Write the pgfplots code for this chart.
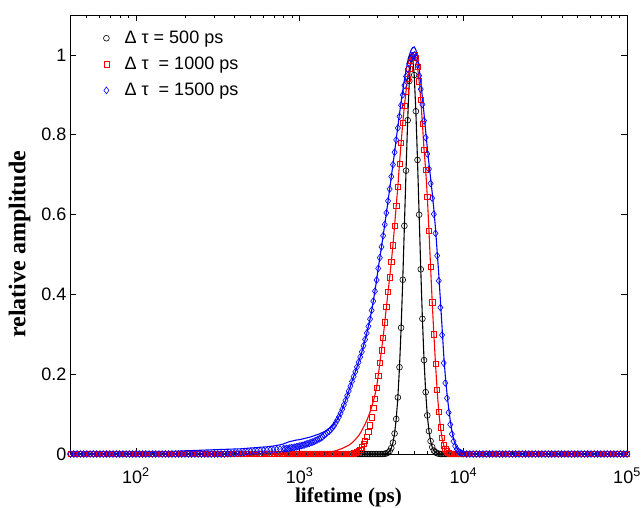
\documentclass[border=0pt]{standalone}
\usepackage{fontspec}
\setmainfont{Liberation Sans}
\newfontfamily\labelfont{Liberation Serif}
\usepackage{pgfplots}
\pgfplotsset{compat=1.18}
\usepackage{pgfplotstable}

% u = log10(lifetime / ps); bk, rd, bl = measured points; rdL, blL = fitted curves
\pgfplotstableread{
u bk rd rdL bl blL
1.60 0 0 0 0 0.0005
1.62 0 0 0 0 0.0006
1.64 0 0 0 0 0.0006
1.66 0 0 0 0 0.0007
1.68 0 0 0 0 0.0007
1.70 0 0 0 0 0.0008
1.72 0 0 0 0 0.0009
1.74 0 0 0 0 0.0010
1.76 0 0 0 0 0.0010
1.78 0 0 0 0 0.0011
1.80 0 0 0 0 0.0012
1.82 0 0 0 0 0.0013
1.84 0 0 0 0 0.0014
1.86 0 0 0 0 0.0014
1.88 0 0 0 0 0.0015
1.90 0 0 0 0 0.0016
1.92 0 0 0 0 0.0017
1.94 0 0 0 0 0.0018
1.96 0 0 0 0 0.0018
1.98 0 0 0 0 0.0019
2.00 0 0 0 0 0.0020
2.02 0 0 0 0 0.0024
2.04 0 0 0 0 0.0028
2.06 0 0 0 0 0.0032
2.08 0 0 0 0 0.0036
2.10 0 0 0 0 0.0040
2.12 0 0 0 0 0.0044
2.14 0 0 0 0 0.0048
2.16 0 0 0 0 0.0052
2.18 0 0 0 0 0.0056
2.20 0 0 0 0 0.0060
2.22 0 0 0 0 0.0064
2.24 0 0 0 0 0.0068
2.26 0 0 0 0 0.0072
2.28 0 0 0 0 0.0076
2.30 0 0 0 0 0.0080
2.32 0 0 0 0 0.0083
2.34 0 0 0 0 0.0086
2.36 0 0 0 0 0.0089
2.38 0 0 0 0 0.0092
2.40 0 0 0 0 0.0095
2.42 0 0 0 0 0.0098
2.44 0 0 0 0 0.0101
2.46 0 0 0 0 0.0104
2.48 0 0 0 0 0.0107
2.50 0 0 0 0 0.0110
2.52 0 0 0 0 0.0113
2.54 0 0 0 0 0.0116
2.56 0 0 0 0.0010 0.0119
2.58 0 0 0 0.0015 0.0122
2.60 0 0 0 0.0020 0.0125
2.62 0 0 0 0.0025 0.0128
2.64 0 0 0 0.0030 0.0130
2.66 0 0 0 0.0040 0.0137
2.68 0 0 0 0.0050 0.0143
2.70 0 0 0 0.0060 0.0150
2.72 0 0 0 0.0065 0.0155
2.74 0 0 0 0.0070 0.0160
2.76 0 0 0 0.0080 0.0170
2.78 0 0 0 0.0085 0.0175
2.80 0 0 0 0.0090 0.0180
2.82 0 0 0 0.0095 0.0190
2.84 0 0 0 0.0100 0.0200
2.86 0 0 0 0.0110 0.0215
2.88 0 0 0 0.0120 0.0230
2.90 0 0 0 0.013 0.025
2.91 0 0 0 0.013 0.027
2.92 0 0 0 0.014 0.028
2.93 0 0 0 0.014 0.030
2.94 0 0 0 0.015 0.031
2.95 0 0 0 0.016 0.032
2.96 0 0 0 0.016 0.033
2.97 0 0 0 0.017 0.034
2.98 0 0 0 0.018 0.035
2.99 0 0 0 0.019 0.0355
3.00 0 0 0 0.020 0.036
3.01 0 0 0 0.021 0.037
3.02 0 0 0 0.022 0.038
3.03 0 0 0 0.023 0.039
3.04 0 0 0 0.025 0.040
3.05 0 0 0 0.026 0.041
3.06 0 0 0 0.027 0.042
3.07 0 0 0 0.029 0.043
3.08 0 0 0 0.030 0.0445
3.09 0 0 0.0008 0.032 0.046
3.10 0 0 0.0010 0.034 0.0475
3.11 0 0 0.0012 0.036 0.049
3.12 0 0 0.0014 0.038 0.050
3.13 0 0 0.0017 0.040 0.052
3.14 0 0 0.0020 0.043 0.054
3.15 0 0 0.0024 0.047 0.056
3.16 0 0 0.0030 0.050 0.058
3.17 0 0 0.0036 0.054 0.061
3.18 0 0 0.0043 0.057 0.064
3.19 0 0 0.0050 0.061 0.067
3.20 0 0 0.0060 0.066 0.071
3.21 0 0 0.0070 0.071 0.076
3.22 0 0 0.0080 0.078 0.081
3.23 0 0 0.0095 0.085 0.087
3.24 0 0 0.0110 0.093 0.094
3.25 0 0 0.0125 0.102 0.102
3.26 0 0 0.0140 0.112 0.112
3.27 0 0 0.0160 0.123 0.123
3.28 0 0 0.0180 0.134 0.134
3.29 0 0 0.0200 0.146 0.146
3.30 0 0.0003 0.0220 0.158 0.158
3.31 0 0.0005 0.025 0.170 0.170
3.32 0 0.001 0.028 0.182 0.182
3.33 0 0.002 0.032 0.194 0.194
3.34 0 0.003 0.036 0.206 0.206
3.35 0 0.005 0.041 0.218 0.218
3.36 0 0.007 0.046 0.230 0.230
3.37 0 0.011 0.052 0.243 0.243
3.38 0 0.017 0.059 0.256 0.256
3.39 0 0.025 0.067 0.271 0.271
3.40 0 0.033 0.075 0.287 0.287
3.41 0 0.044 0.084 0.303 0.303
3.42 0 0.056 0.094 0.320 0.320
3.43 0 0.072 0.105 0.338 0.338
3.44 0 0.092 0.118 0.360 0.360
3.45 0 0.115 0.132 0.383 0.383
3.46 0 0.139 0.148 0.408 0.408
3.47 0 0.165 0.167 0.436 0.436
3.48 0 0.196 0.196 0.465 0.465
3.49 0 0.228 0.228 0.492 0.492
3.50 0 0.260 0.260 0.519 0.519
3.51 0 0.292 0.292 0.547 0.547
3.52 0.0007 0.330 0.330 0.575 0.575
3.53 0.0016 0.368 0.368 0.604 0.604
3.54 0.0036 0.406 0.406 0.634 0.634
3.55 0.0075 0.443 0.443 0.664 0.664
3.56 0.0151 0.481 0.481 0.695 0.695
3.57 0.0286 0.523 0.523 0.725 0.725
3.58 0.0514 0.572 0.572 0.756 0.756
3.59 0.0876 0.622 0.622 0.787 0.789
3.60 0.1417 0.670 0.670 0.817 0.821
3.61 0.2174 0.728 0.728 0.846 0.852
3.62 0.3163 0.780 0.780 0.874 0.882
3.63 0.4367 0.830 0.830 0.900 0.911
3.64 0.5717 0.872 0.872 0.924 0.937
3.65 0.7100 0.909 0.909 0.946 0.962
3.66 0.8364 0.941 0.941 0.964 0.984
3.67 0.9346 0.966 0.966 0.979 0.999
3.68 0.9905 0.985 0.985 0.991 1.011
3.69 0.9958 0.996 0.996 0.998 1.018
3.70 0.9495 1.000 1.000 1.000 1.020
3.71 0.8588 0.9925 0.9925 0.993 1.013
3.72 0.7367 0.970 0.970 0.975 0.995
3.73 0.5996 0.934 0.934 0.948 0.967
3.74 0.4628 0.887 0.887 0.914 0.932
3.75 0.3388 0.828 0.828 0.876 0.894
3.76 0.2353 0.763 0.763 0.835 0.852
3.77 0.1550 0.712 0.712 0.793 0.809
3.78 0.0968 0.645 0.645 0.752 0.767
3.79 0.0574 0.560 0.560 0.714 0.728
3.80 0.0323 0.469 0.469 0.678 0.692
3.81 0.0172 0.380 0.380 0.641 0.654
3.82 0.0087 0.300 0.300 0.601 0.613
3.83 0.0042 0.226 0.226 0.553 0.565
3.84 0.0019 0.160 0.160 0.497 0.508
3.85 0.0008 0.106 0.106 0.434 0.450
3.86 0 0.067 0.067 0.367 0.385
3.87 0 0.040 0.040 0.298 0.318
3.88 0 0.022 0.022 0.228 0.250
3.89 0 0.013 0.013 0.178 0.195
3.90 0 0.007 0.007 0.140 0.153
3.91 0 0.003 0.003 0.104 0.116
3.92 0 0.001 0.001 0.074 0.084
3.93 0 0 0 0.050 0.058
3.94 0 0 0 0.032 0.038
3.95 0 0 0 0.020 0.024
3.96 0 0 0 0.012 0.015
3.97 0 0 0 0.007 0.009
3.98 0 0 0 0.004 0.005
3.99 0 0 0 0.002 0.003
4.00 0 0 0 0.001 0.0015
4.02 0 0 0 0 0
4.04 0 0 0 0 0
4.06 0 0 0 0 0
4.08 0 0 0 0 0
4.10 0 0 0 0 0
4.12 0 0 0 0 0
4.14 0 0 0 0 0
4.16 0 0 0 0 0
4.18 0 0 0 0 0
4.20 0 0 0 0 0
4.22 0 0 0 0 0
4.24 0 0 0 0 0
4.26 0 0 0 0 0
4.28 0 0 0 0 0
4.30 0 0 0 0 0
4.32 0 0 0 0 0
4.34 0 0 0 0 0
4.36 0 0 0 0 0
4.38 0 0 0 0 0
4.40 0 0 0 0 0
4.42 0 0 0 0 0
4.44 0 0 0 0 0
4.46 0 0 0 0 0
4.48 0 0 0 0 0
4.50 0 0 0 0 0
4.52 0 0 0 0 0
4.54 0 0 0 0 0
4.56 0 0 0 0 0
4.58 0 0 0 0 0
4.60 0 0 0 0 0
4.62 0 0 0 0 0
4.64 0 0 0 0 0
4.66 0 0 0 0 0
4.68 0 0 0 0 0
4.70 0 0 0 0 0
4.72 0 0 0 0 0
4.74 0 0 0 0 0
4.76 0 0 0 0 0
4.78 0 0 0 0 0
4.80 0 0 0 0 0
4.82 0 0 0 0 0
4.84 0 0 0 0 0
4.86 0 0 0 0 0
4.88 0 0 0 0 0
4.90 0 0 0 0 0
4.92 0 0 0 0 0
4.94 0 0 0 0 0
4.96 0 0 0 0 0
4.98 0 0 0 0 0
5.00 0 0 0 0 0
}\lifetimes

\begin{document}
\begin{tikzpicture}
  \useasboundingbox (-70pt,-53pt) rectangle (574pt,454pt);
  \begin{axis}[
      at={(0pt,0pt)}, anchor=south west,
      scale only axis,
      width=557pt, height=439pt,
      xmin=1.597, xmax=5,
      ymin=0, ymax=1.1,
      xtick={2,3,4,5},
      xticklabels={10\textsuperscript{2},10\textsuperscript{3},10\textsuperscript{4},10\textsuperscript{5}},
      minor xtick={1.69897,1.77815,1.84510,1.90309,1.95424,
        2.30103,2.47712,2.60206,2.69897,2.77815,2.84510,2.90309,2.95424,
        3.30103,3.47712,3.60206,3.69897,3.77815,3.84510,3.90309,3.95424,
        4.30103,4.47712,4.60206,4.69897,4.77815,4.84510,4.90309,4.95424},
      ytick={0,0.2,0.4,0.6,0.8,1},
      yticklabels={0,0.2,0.4,0.6,0.8,1},
      tick align=inside,
      major tick length=6pt, minor tick length=3.5pt,
      every tick/.style={black, line width=0.6pt},
      axis line style={line width=0.8pt},
      ticklabel style={font=\fontsize{18}{21}\selectfont},
      xticklabel style={inner sep=0pt, anchor=base, yshift=-29pt},
      xlabel={\labelfont\bfseries lifetime (ps)},
      ylabel={\labelfont\bfseries relative amplitude},
      xlabel style={font=\fontsize{21}{24}\selectfont, inner sep=0pt,
        at={(axis description cs:0.5,0)}, anchor=base, yshift=-48pt},
      ylabel style={font=\fontsize{24}{26}\selectfont, yshift=4pt,
        at={(ticklabel cs:0.478)}},
      legend cell align=left,
      legend image code/.code={
        \draw[#1] plot coordinates {(11pt,0pt)};
        \path (0pt,0pt) (27pt,0pt);
      },
      legend style={
        at={(axis description cs:0,1)}, anchor=north west,
        xshift=22pt, yshift=-12pt,
        draw=none, fill=none,
        font=\fontsize{18}{21}\selectfont,
        row sep=8pt,
      },
    ]
    \addplot[only marks, black, mark=o, mark size=2.9pt,
      mark options={line width=0.6pt}]
      table[x=u, y=bk] {\lifetimes};
    \addlegendentry{Δ τ = 500 ps}
    \addplot[red, mark=square, only marks, mark size=2.6pt,
      mark options={line width=0.6pt}]
      table[x=u, y=rd] {\lifetimes};
    \addlegendentry{Δ τ \ = 1000 ps}
    \addplot[blue, mark=diamond, only marks, mark size=3.4pt,
      mark options={line width=0.6pt}]
      table[x=u, y=bl] {\lifetimes};
    \addlegendentry{Δ τ \ = 1500 ps}
    \addplot[black, line width=1.1pt, forget plot] table[x=u, y=bk] {\lifetimes};
    \addplot[red, line width=1.1pt, forget plot] table[x=u, y=rdL] {\lifetimes};
    \addplot[blue, line width=1.1pt, forget plot] table[x=u, y=blL] {\lifetimes};
  \end{axis}
\end{tikzpicture}
\end{document}
